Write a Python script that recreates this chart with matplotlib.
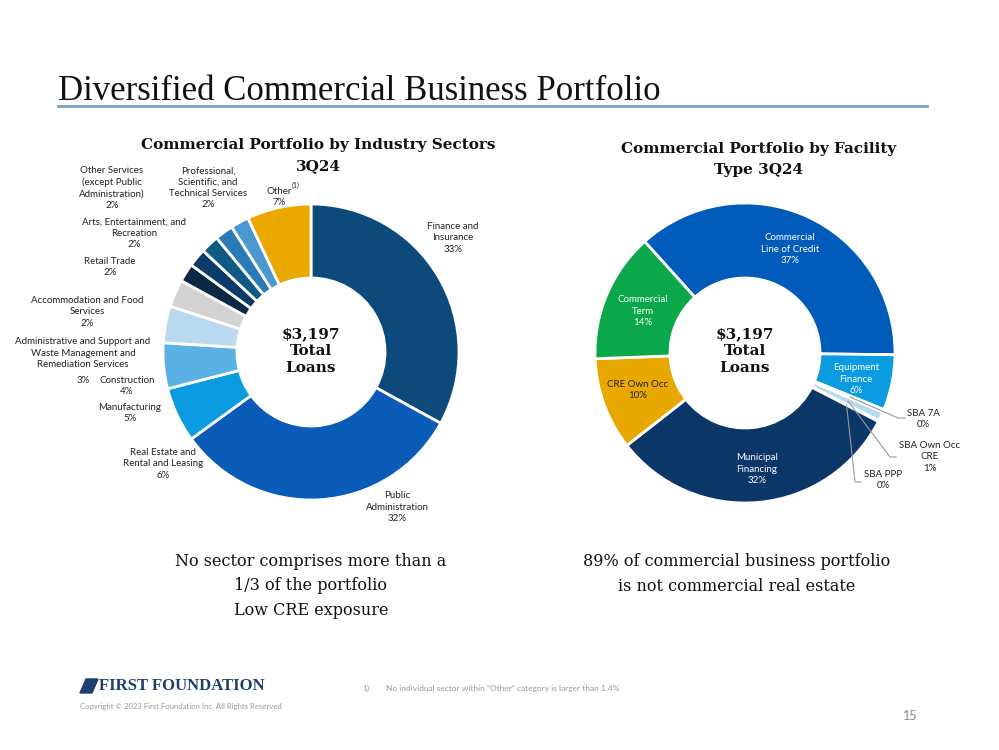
import matplotlib
matplotlib.use("Agg")
import matplotlib.pyplot as plt
from matplotlib.patches import Polygon
import numpy as np

W, H = 999, 750

# ---- data ----
sector_names = ["Finance and\nInsurance", "Public\nAdministration", "Real Estate and\nRental and Leasing",
                "Manufacturing", "Construction",
                "Administrative and Support and\nWaste Management and\nRemediation Services",
                "Accommodation and Food\nServices", "Retail Trade", "Arts, Entertainment, and\nRecreation",
                "Other Services\n(except Public\nAdministration)",
                "Professional,\nScientific, and\nTechnical Services", "Other"]
sector_pct = [33, 32, 6, 5, 4, 3, 2, 2, 2, 2, 2, 7]
sector_colors = ["#0d4a7b", "#0a5cb8", "#0a9be0", "#5ab1e4", "#b9d9ef", "#d3d3d3",
                 "#0b2844", "#0c3a6b", "#0e5a85", "#2a7bb5", "#4a98cf", "#eaa800"]

facility_names = ["Commercial\nLine of Credit", "Equipment\nFinance", "SBA 7A", "SBA Own Occ\nCRE",
                  "SBA PPP", "Municipal\nFinancing", "CRE Own Occ", "Commercial\nTerm"]
facility_pct = [37, 6, 0.3, 1.0, 0.1, 32, 10, 14]
facility_colors = ["#005bbb", "#0a9be0", "#cfe3f2", "#b9d9ef", "#9ec6e6", "#0b3668", "#e8a800", "#0aa84a"]

total_loans = "$3,197"

plt.rcParams['font.family'] = ['Lato', 'DejaVu Sans']

fig = plt.figure(figsize=(W / 100, H / 100), dpi=100)
fig.patch.set_facecolor("white")


def ftext(x, y, s, **kw):
    kw.setdefault("ha", "center")
    kw.setdefault("va", "center")
    return fig.text(x / W, 1 - y / H, s, **kw)


def donut(cx, cy, R, vals, colors, start):
    ax = fig.add_axes([(cx - R) / W, 1 - (cy + R) / H, 2 * R / W, 2 * R / H])
    wedges, _ = ax.pie(vals, colors=colors, startangle=start, counterclock=False, radius=1,
                       wedgeprops=dict(width=0.5, edgecolor="white", linewidth=2))
    ax.set_xlim(-1, 1)
    ax.set_ylim(-1, 1)
    ax.axis("off")
    return ax, wedges


# title
ftext(58, 91, "Diversified Commercial Business Portfolio", ha="left", fontsize=25,
      family="Liberation Serif", color="#111111")
fig.add_artist(plt.Line2D([58 / W, 927 / W], [1 - 106 / H, 1 - 106 / H], color="#7f9fba", lw=2))

serif = "DejaVu Serif"
sub_kw = dict(fontsize=11, fontweight="bold", family=serif, color="#111111")
ftext(318, 145, "Commercial Portfolio by Industry Sectors", **sub_kw)
ftext(318, 166, "3Q24", **sub_kw)
ftext(759, 149, "Commercial Portfolio by Facility", **sub_kw)
ftext(759, 170, "Type 3Q24", **sub_kw)

# ---- left donut ----
lcx, lcy, LR = 311, 352, 148
axl, wl = donut(lcx, lcy, LR, sector_pct, sector_colors, 90)
left_pos = [(453, 238), (397, 507), (163, 464), (130, 413), (127, 386), (83, 360),
            (87, 312), (110, 267), (134, 233), (112, 188), (208, 188), (279, 197)]
for name, pct, (x, y) in zip(sector_names, sector_pct, left_pos):
    if name.count("\n") == 2 and name.startswith("Administrative"):
        # label block and its percentage drawn apart, as on the slide
        ftext(x, y - 7, name, fontsize=7, linespacing=1.3, color="#222222")
        ftext(x, y + 20, f"{pct}%", fontsize=7, color="#222222")
    else:
        ftext(x, y, f"{name}\n{pct}%", fontsize=7, linespacing=1.3, color="#222222")
ftext(296, 185, "(1)", fontsize=5, color="#222222")

center_kw = dict(fontsize=11, fontweight="bold", family=serif, linespacing=1.3, color="#111111")
ftext(lcx, 351, f"{total_loans}\nTotal\nLoans", **center_kw)

# ---- right donut ----
rcx, rcy, RR = 745, 353, 150
axr, wr = donut(rcx, rcy, RR, facility_pct, facility_colors, 132)
inside_pos = {0: (790, 249), 1: (856, 379), 5: (757, 469), 6: (638, 390), 7: (643, 311)}
for i, (x, y) in inside_pos.items():
    col = "#222222" if i == 6 else "white"
    ftext(x, y, f"{facility_names[i]}\n{facility_pct[i]:.0f}%", fontsize=7, linespacing=1.3, color=col)

outside = {2: ((923, 419), (898, 418), (905, 418)),
           3: ((930, 457), (890, 457), (896, 457)),
           4: ((883, 480), (855, 482), (861, 482))}
for i, ((tx, ty), (ex, ey), (hx, hy)) in outside.items():
    ftext(tx, ty, f"{facility_names[i]}\n{facility_pct[i]:.0f}%", fontsize=7, linespacing=1.3,
          color="#222222")
    ang = np.deg2rad((wr[i].theta1 + wr[i].theta2) / 2)
    sx, sy = 0.76 * np.cos(ang), 0.76 * np.sin(ang)
    pts_x = [sx, (ex - rcx) / RR, (hx - rcx) / RR]
    pts_y = [sy, (rcy - ey) / RR, (rcy - hy) / RR]
    axr.plot(pts_x, pts_y, color="#999999", lw=0.8, clip_on=False)

ftext(rcx, 351, f"{total_loans}\nTotal\nLoans", **center_kw)

# ---- commentary ----
ftext(311, 586, "No sector comprises more than a\n1/3 of the portfolio\nLow CRE exposure",
      fontsize=11.5, family=serif, linespacing=1.55, color="#111111")
ftext(737, 574, "89% of commercial business portfolio\nis not commercial real estate",
      fontsize=11.5, family=serif, linespacing=1.55, color="#111111")

# ---- footer ----
logo = Polygon([[80 / W, 1 - 693 / H], [86 / W, 1 - 679 / H], [98 / W, 1 - 679 / H], [92 / W, 1 - 693 / H]],
               closed=True, transform=fig.transFigure, color="#1d3f6e")
fig.add_artist(logo)
ftext(99, 686, "FIRST FOUNDATION", ha="left", fontsize=12, fontweight="bold",
      family="Liberation Serif", color="#1d3f6e")
ftext(80, 706, "Copyright \u00a9 2023 First Foundation Inc. All Rights Reserved", ha="left",
      fontsize=5.6, color="#999999")
ftext(362, 688, "1)", ha="left", fontsize=6, color="#999999")
ftext(386, 688, "No individual sector within \u201cOther\u201d category is larger than 1.4%", ha="left",
      fontsize=6, color="#999999")
ftext(910, 716, "15", fontsize=9, color="#888888")

fig.savefig("out.png", dpi=100)
